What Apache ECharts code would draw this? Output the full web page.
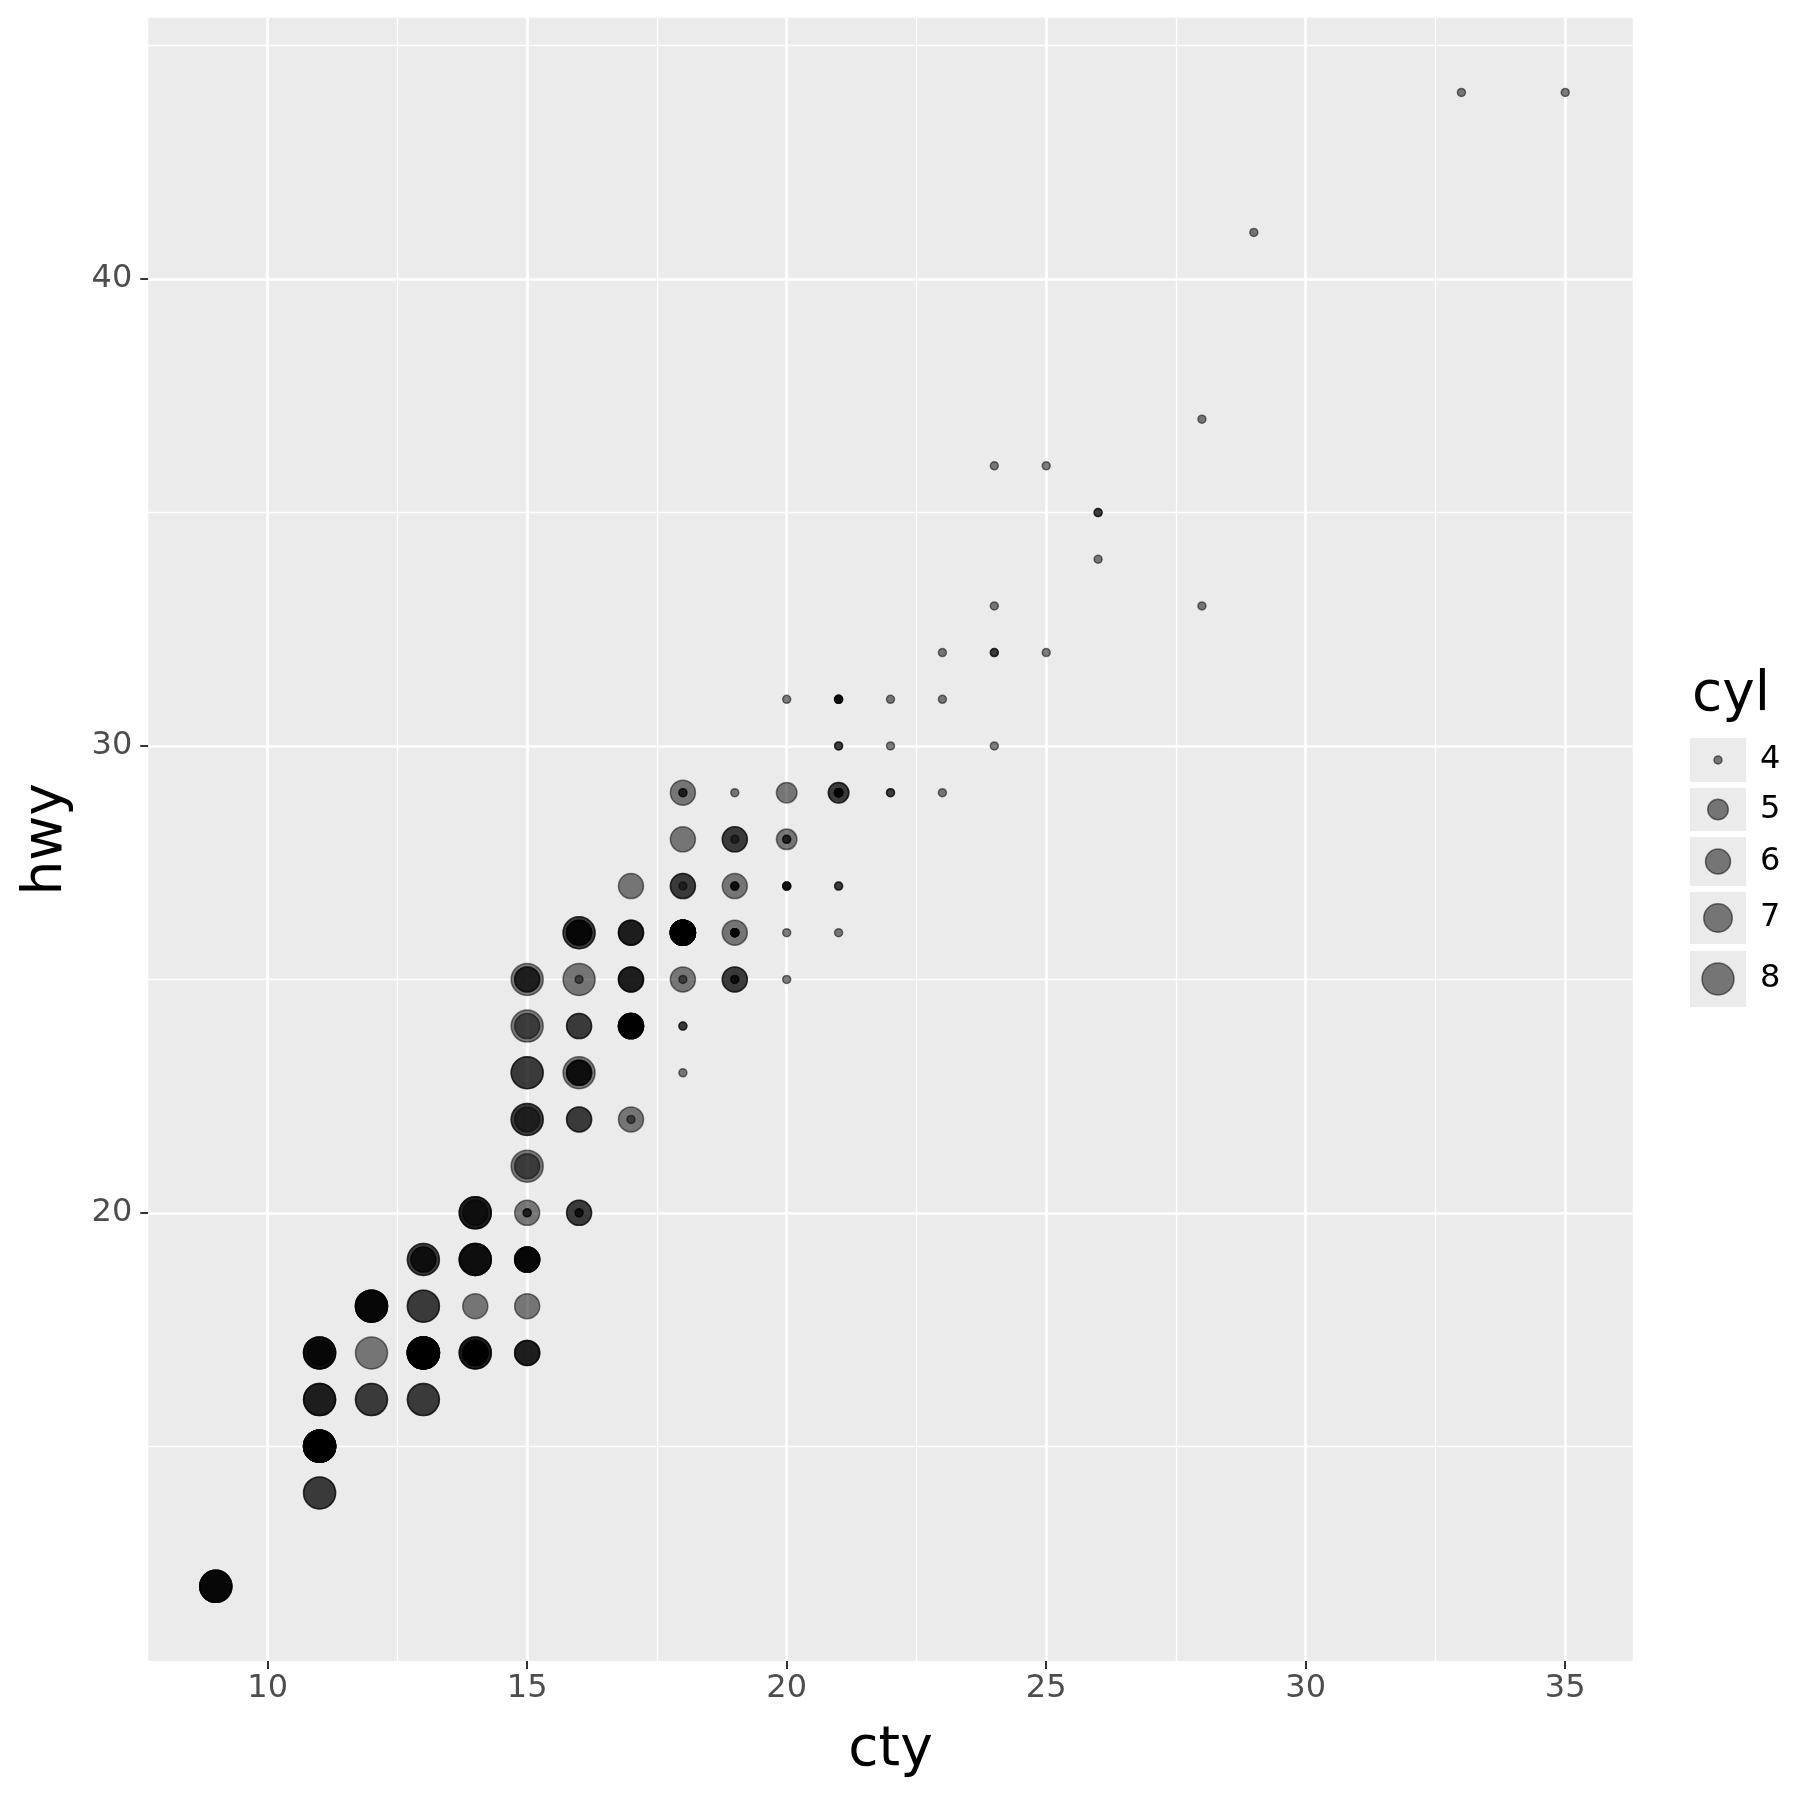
<!DOCTYPE html>
<html>
<head>
<meta charset="utf-8">
<script src="https://cdn.jsdelivr.net/npm/echarts@6/dist/echarts.min.js"></script>
<style>
  html, body { margin: 0; padding: 0; background: #fff; }
  #chart { width: 1800px; height: 1800px; }
</style>
</head>
<body>
<div id="chart"></div>
<script>
// mpg: city / highway mileage, point size by cylinders
const cty = [
  18, 21, 20, 21, 16, 18, 18, 18, 16, 20, 19, 15, 17, 17, 15, 15, 17, 16, 14, 11,
  14, 13, 12, 16, 15, 16, 15, 15, 14, 11, 11, 14, 19, 22, 18, 18, 17, 18, 17, 16,
  16, 17, 17, 11, 15, 15, 16, 16, 15, 14, 13, 14, 14, 14, 9, 11, 11, 13, 13, 9,
  13, 11, 11, 13, 12, 9, 13, 13, 12, 9, 11, 11, 11, 11, 11, 11, 12, 14, 15, 14,
  13, 13, 13, 14, 14, 13, 13, 13, 11, 13, 18, 18, 17, 16, 15, 15, 15, 15, 14, 28,
  24, 25, 23, 24, 26, 25, 24, 21, 18, 18, 21, 21, 18, 18, 19, 19, 19, 20, 20, 17,
  16, 17, 17, 15, 15, 14, 14, 9, 13, 11, 11, 12, 12, 11, 11, 11, 12, 14, 13, 13,
  13, 21, 19, 23, 23, 19, 19, 18, 19, 19, 14, 15, 14, 12, 18, 16, 17, 18, 16, 18,
  18, 20, 19, 20, 18, 21, 19, 19, 19, 20, 20, 19, 20, 15, 16, 15, 15, 16, 14, 21,
  21, 21, 21, 18, 18, 19, 21, 21, 21, 22, 18, 18, 18, 24, 24, 26, 28, 26, 11, 13,
  15, 16, 17, 15, 15, 15, 16, 21, 19, 21, 22, 17, 33, 21, 19, 22, 21, 21, 21, 16,
  17, 35, 29, 21, 19, 20, 20, 21, 18, 19, 21, 16, 18, 17
];
const hwy = [
  29, 29, 31, 30, 26, 26, 27, 26, 25, 28, 27, 25, 25, 25, 25, 24, 25, 23, 20, 15,
  20, 17, 17, 26, 23, 26, 25, 24, 19, 14, 15, 17, 27, 30, 26, 29, 26, 24, 24, 22,
  22, 24, 24, 17, 22, 21, 23, 23, 19, 18, 17, 17, 19, 19, 12, 17, 15, 17, 17, 12,
  17, 16, 15, 17, 16, 12, 17, 17, 16, 12, 15, 16, 15, 15, 17, 17, 18, 17, 19, 17,
  19, 19, 17, 17, 17, 16, 16, 17, 15, 17, 26, 25, 26, 24, 21, 22, 23, 22, 20, 33,
  32, 32, 29, 32, 34, 36, 36, 29, 26, 27, 30, 31, 26, 26, 28, 26, 29, 28, 27, 24,
  24, 24, 22, 19, 20, 17, 19, 12, 18, 14, 15, 18, 18, 15, 17, 16, 18, 17, 19, 19,
  17, 29, 27, 31, 32, 27, 26, 26, 25, 25, 17, 17, 20, 18, 26, 26, 27, 28, 25, 25,
  24, 27, 25, 26, 23, 26, 26, 26, 26, 25, 27, 25, 27, 20, 20, 19, 17, 20, 17, 29,
  27, 31, 31, 26, 26, 28, 27, 29, 31, 31, 26, 26, 27, 30, 33, 35, 37, 35, 15, 18,
  20, 20, 22, 17, 19, 18, 20, 29, 26, 29, 29, 24, 44, 29, 26, 29, 29, 29, 29, 23,
  24, 44, 41, 29, 26, 28, 29, 29, 29, 28, 29, 26, 26, 26
];
const cyl = [
  4, 4, 4, 4, 6, 6, 6, 4, 4, 4, 4, 6, 6, 6, 6, 6, 6, 8, 8, 8,
  8, 8, 8, 8, 8, 8, 8, 8, 8, 8, 8, 8, 4, 4, 6, 6, 6, 4, 6, 6,
  6, 6, 6, 6, 6, 6, 6, 6, 6, 6, 6, 6, 8, 8, 8, 8, 8, 6, 8, 8,
  8, 8, 8, 8, 8, 8, 8, 8, 8, 8, 8, 8, 8, 8, 8, 8, 8, 6, 6, 6,
  6, 8, 8, 6, 6, 8, 8, 8, 8, 8, 6, 6, 6, 6, 8, 8, 8, 8, 8, 4,
  4, 4, 4, 4, 4, 4, 4, 4, 4, 4, 4, 4, 6, 6, 6, 4, 4, 4, 4, 6,
  6, 6, 6, 6, 6, 8, 8, 8, 8, 8, 8, 8, 8, 8, 8, 8, 8, 6, 6, 8,
  8, 4, 4, 4, 4, 6, 6, 6, 6, 6, 6, 6, 6, 8, 6, 6, 6, 6, 8, 4,
  4, 4, 4, 4, 4, 4, 4, 4, 4, 4, 4, 4, 4, 4, 4, 6, 6, 6, 8, 4,
  4, 4, 4, 6, 6, 6, 4, 4, 4, 4, 6, 6, 6, 4, 4, 4, 4, 4, 8, 8,
  4, 4, 4, 6, 6, 6, 6, 4, 4, 4, 4, 6, 4, 4, 4, 4, 4, 5, 5, 6,
  6, 4, 4, 4, 4, 5, 5, 4, 4, 4, 4, 6, 6, 6
];
const xTicks = [10, 15, 20, 25, 30, 35];
const yTicks = [20, 30, 40];
const xMinor = [12.5, 17.5, 22.5, 27.5, 32.5];
const yMinor = [15, 25, 35, 45];
const cylLevels = [4, 5, 6, 7, 8];

// point diameter per cylinder count
const sizeOf = { 4: 8, 5: 20.5, 6: 25, 7: 28.5, 8: 32 };
const ink = 'rgba(0,0,0,0.5)';
const font = 'DejaVu Sans';

function expand(arr) {
  const lo = Math.min(...arr), hi = Math.max(...arr);
  const pad = (hi - lo) * 0.05;
  return [lo - pad, hi + pad];
}
const xr = expand(cty);
const yr = expand(hwy);

const points = cty.map((c, i) => [c, hwy[i], cyl[i]]);

const gridLines = [];
xTicks.forEach(v => gridLines.push({ xAxis: v, lineStyle: { width: 2.7 } }));
xMinor.forEach(v => gridLines.push({ xAxis: v, lineStyle: { width: 1.3 } }));
yTicks.forEach(v => gridLines.push({ yAxis: v, lineStyle: { width: 2.7 } }));
yMinor.forEach(v => gridLines.push({ yAxis: v, lineStyle: { width: 1.3 } }));

// legend drawn by hand, ggplot style
const keyBoxes = [[738, 782], [788, 831], [837, 886], [892, 944], [951, 1007]];
const legendEls = [{
  type: 'text', left: 1692, top: 668,
  style: { text: 'cyl', font: '55px "DejaVu Sans"', fill: '#000' }
}];
cylLevels.forEach((lv, i) => {
  const [y0, y1] = keyBoxes[i];
  const cy = (y0 + y1) / 2;
  legendEls.push({
    type: 'rect', shape: { x: 1690, y: y0, width: 56, height: y1 - y0 },
    style: { fill: '#EBEBEB' }
  });
  legendEls.push({
    type: 'circle', shape: { cx: 1718, cy: cy, r: sizeOf[lv] / 2 },
    style: { fill: ink, stroke: ink, lineWidth: 1.5 }
  });
  legendEls.push({
    type: 'text', x: 1760, y: cy,
    style: { text: String(lv), font: '32px "DejaVu Sans"', fill: '#000', verticalAlign: 'middle' }
  });
});

let chart = echarts.init(document.getElementById('chart'), null, { renderer: 'canvas' });

let option = {
  animation: false,
  backgroundColor: '#fff',
  grid: {
    left: 148.3, right: 167.3, top: 17.7, bottom: 139,
    show: true, backgroundColor: '#EBEBEB', borderWidth: 0
  },
  xAxis: {
    type: 'value', min: xr[0], max: xr[1],
    name: 'cty', nameLocation: 'middle', nameGap: 62,
    nameTextStyle: { fontSize: 55, fontFamily: font, color: '#000' },
    axisLine: { show: false },
    axisTick: { show: true, length: 8, customValues: xTicks, lineStyle: { color: '#333', width: 2 } },
    axisLabel: { customValues: xTicks, fontSize: 32, fontFamily: font, color: '#4D4D4D', margin: 12 },
    splitLine: { show: false }
  },
  yAxis: {
    type: 'value', min: yr[0], max: yr[1],
    name: 'hwy', nameLocation: 'middle', nameGap: 74, nameRotate: 90,
    nameTextStyle: { fontSize: 55, fontFamily: font, color: '#000' },
    axisLine: { show: false },
    axisTick: { show: true, length: 8, customValues: yTicks, lineStyle: { color: '#333', width: 2 } },
    axisLabel: { customValues: yTicks, fontSize: 32, fontFamily: font, color: '#4D4D4D', margin: 16 },
    splitLine: { show: false }
  },
  series: [
    {
      type: 'scatter', z: 1, data: [], silent: true,
      markLine: {
        z: 1, silent: true, symbol: 'none', animation: false,
        label: { show: false },
        lineStyle: { color: '#fff', type: 'solid' },
        data: gridLines
      }
    },
    {
      name: 'cyl', type: 'scatter', z: 3,
      data: points,
      symbol: 'circle',
      symbolSize: function (val) { return sizeOf[val[2]]; },
      itemStyle: { color: ink, borderColor: ink, borderWidth: 1.5, opacity: 1 }
    }
  ],
  graphic: legendEls
};

chart.setOption(option);
</script>
</body>
</html>
